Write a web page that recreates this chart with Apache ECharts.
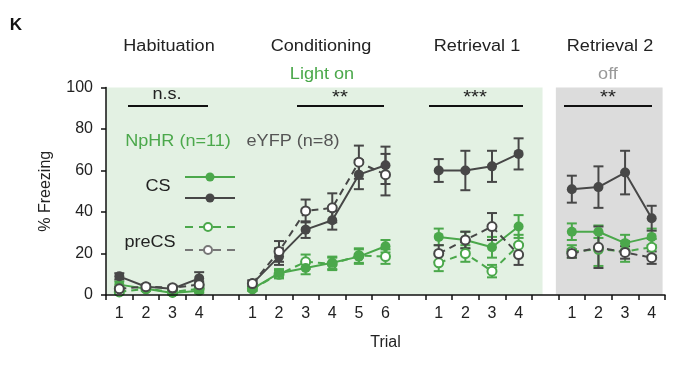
<!DOCTYPE html>
<html><head><meta charset="utf-8">
<script src="https://cdn.jsdelivr.net/npm/echarts@6/dist/echarts.min.js"></script>
<style>html,body{margin:0;padding:0;background:#fff}#c{width:678px;height:367px}</style>
</head><body><div id="c"></div>
<script>
// categories (blank entries separate the four phases)
const categories = ['1','2','3','4','', '1','2','3','4','5','6','', '1','2','3','4','', '1','2','3','4'];
const yTickValues = [0,20,40,60,80,100];
// eYFP CS (dark, filled)
const eyfpCS     = [9,4,3,8,null, 5.5,18.5,31.5,36,58,62.5,null, 60,60,62,68,null, 51,52,59,37];
const eyfpCSErr  = [1.5,1,1,3,null, 1.5,4,4,4.5,7,9,null, 5.5,9.5,7.5,7.5,null, 6.5,10,10.5,6];
// eYFP preCS (dark, open)
const eyfpPre    = [3,4,3.5,5,null, 5.5,21,40.5,42,64,58,null, 20,26.5,33,19.5,null, 20,23,20.5,18];
const eyfpPreErr = [1,1,1,1.5,null, 1.5,5,5.5,7,8,10,null, 4,4,6.5,5,null, 2,10,3,3];
// NpHR CS (green, filled)
const nphrCS     = [5,3,1,2,null, 3,10.5,13,15.5,18.5,23.5,null, 28,26.5,23,33,null, 30.5,30.5,25,28];
const nphrCSErr  = [1.5,1,1,1,null, 1,2,3,3,3.5,3,null, 4,4,5,5.5,null, 4,3,4,4];
// NpHR preCS (green, open)
const nphrPre    = [1.5,3,1.5,3,null, 3,10,16,15,19,18.5,null, 15.5,20,11.5,24,null, 21,22,21,23];
const nphrPreErr = [1,1,1,1.5,null, 1,2,3.5,3,3.5,3.5,null, 4,4,3,5,null, 3,8,5,4];

const GREEN = '#4ba84b', DARK = '#474747', FONT = 'Liberation Sans, Arial, sans-serif';

function errData(m, e){
  const out=[];
  m.forEach((v,i)=>{ if(v!=null) out.push([i, v-e[i], v+e[i]]); });
  return out;
}
function errSeries(m,e,color){
  return {type:'custom', xAxisIndex:0, z:1, silent:true,
    renderItem:(params, api)=>{
      const x=api.value(0), lo=api.coord([x, api.value(1)]), hi=api.coord([x, api.value(2)]);
      const w=5, st={stroke:color, lineWidth:2};
      return {type:'group', children:[
        {type:'line', shape:{x1:lo[0],y1:lo[1],x2:hi[0],y2:hi[1]}, style:st},
        {type:'line', shape:{x1:lo[0]-w,y1:lo[1],x2:lo[0]+w,y2:lo[1]}, style:st},
        {type:'line', shape:{x1:hi[0]-w,y1:hi[1],x2:hi[0]+w,y2:hi[1]}, style:st}
      ]};
    },
    encode:{x:0,y:[1,2]}, data: errData(m,e)};
}
function lineSeries(d,color,open){
  return {type:'line', xAxisIndex:0, z:3, data:d, connectNulls:false, symbol:'circle', symbolSize: open?9:10,
    lineStyle:{color, width:2, type: open?[7,5]:'solid'},
    itemStyle: open?{color:'#fff', borderColor:color, borderWidth:2}:{color, borderColor:color, borderWidth:0},
    emphasis:{disabled:true}, animation:false};
}

const chart = echarts.init(document.getElementById('c'));
const SX = 1.13;
const txt = (x,y,text,opt={},sx=SX) => ({type:'text', x, y, z:100, scaleX:sx, style:Object.assign({text, fontFamily:FONT, fontSize:16, fill:'#222', align:'center', verticalAlign:'middle'}, opt)});
const hl = (x1,x2,y,color='#111',dash=null,w=2) => ({type:'line', z:100, shape:{x1,y1:y,x2,y2:y}, style:{stroke:color, lineWidth:w, lineDash:dash}});
const dot = (cx,cy,color,open) => ({type:'circle', z:101, shape:{cx,cy,r:open?4:4.5}, style:{fill: open?'#fff':color, stroke:color, lineWidth: open?2:0}});

chart.setOption({
  animation:false,
  grid:{left:106, right:13, top:87.5, bottom:72},
  xAxis:[{type:'category', data:categories, boundaryGap:true, z:5,
      axisLine:{onZero:false, lineStyle:{color:'#111', width:1.5}},
      axisTick:{show:true, length:5, inside:false, lineStyle:{color:'#111', width:1.5}, alignWithLabel:false},
      axisLabel:{fontSize:16, color:'#222', fontFamily:FONT, margin:11, interval:0},
      name:'Trial', nameLocation:'middle', nameGap:40, nameTextStyle:{fontSize:16, color:'#222', fontFamily:FONT}},
    {type:'value', min:-0.5, max:20.5, show:false}],
  yAxis:{type:'value', min:0, max:100, interval:20, z:5,
    axisLine:{show:true, onZero:false, lineStyle:{color:'#111', width:1.5}},
    axisTick:{show:true, length:5, lineStyle:{color:'#111', width:1.5}},
    splitLine:{show:false},
    axisLabel:{fontSize:16, color:'#222', fontFamily:FONT, margin:13, formatter:v=>yTickValues.includes(v)?String(v):''},
    name:'% Freezing', nameLocation:'middle', nameGap:52, nameTextStyle:{fontSize:16, color:'#222', fontFamily:FONT}},
  series:[
    {type:'line', xAxisIndex:1, data:[], z:0, silent:true,
      markArea:{silent:true, data:[
        [{xAxis:-0.5, yAxis:0, itemStyle:{color:'#e3f1e3'}},{xAxis:15.9, yAxis:101.2}],
        [{xAxis:16.4, yAxis:0, itemStyle:{color:'#dcdcdc'}},{xAxis:20.41, yAxis:101.2}]
      ]}},
    errSeries(nphrPre, nphrPreErr, GREEN),
    errSeries(nphrCS, nphrCSErr, GREEN),
    errSeries(eyfpCS, eyfpCSErr, DARK),
    errSeries(eyfpPre, eyfpPreErr, DARK),
    lineSeries(nphrPre, GREEN, true),
    lineSeries(nphrCS, GREEN, false),
    lineSeries(eyfpCS, DARK, false),
    lineSeries(eyfpPre, DARK, true)
  ],
  graphic:[
    txt(16,25,'K',{fontWeight:'bold', fontSize:17, fill:'#111'},1),
    txt(169,47,'Habituation'), txt(321,47,'Conditioning'), txt(477,47,'Retrieval 1'), txt(610,47,'Retrieval 2'),
    txt(322,75,'Light on',{fill:GREEN}), txt(608,75,'off',{fill:'#999'}),
    txt(167,95,'n.s.'), hl(128,208,106),
    txt(340,98,'**',{fontSize:18}), hl(297,384,106),
    txt(475,98,'***',{fontSize:18}), hl(429,523,106),
    txt(608,98,'**',{fontSize:18}), hl(564,652,106),
    txt(178,142,'NpHR (n=11)',{fill:GREEN}),
    txt(293,142,'eYFP (n=8)',{fill:'#555'}),
    txt(158,187,'CS'), txt(150,243,'preCS'),
    hl(185,235,177,GREEN), dot(210,177,GREEN,false),
    hl(185,235,198,DARK), dot(210,198,DARK,false),
    hl(185,235,227,GREEN,[8,6]), dot(208,227,GREEN,true),
    hl(185,235,250,'#777',[8,6]), dot(208,250,'#777',true)
  ]
});
</script></body></html>
